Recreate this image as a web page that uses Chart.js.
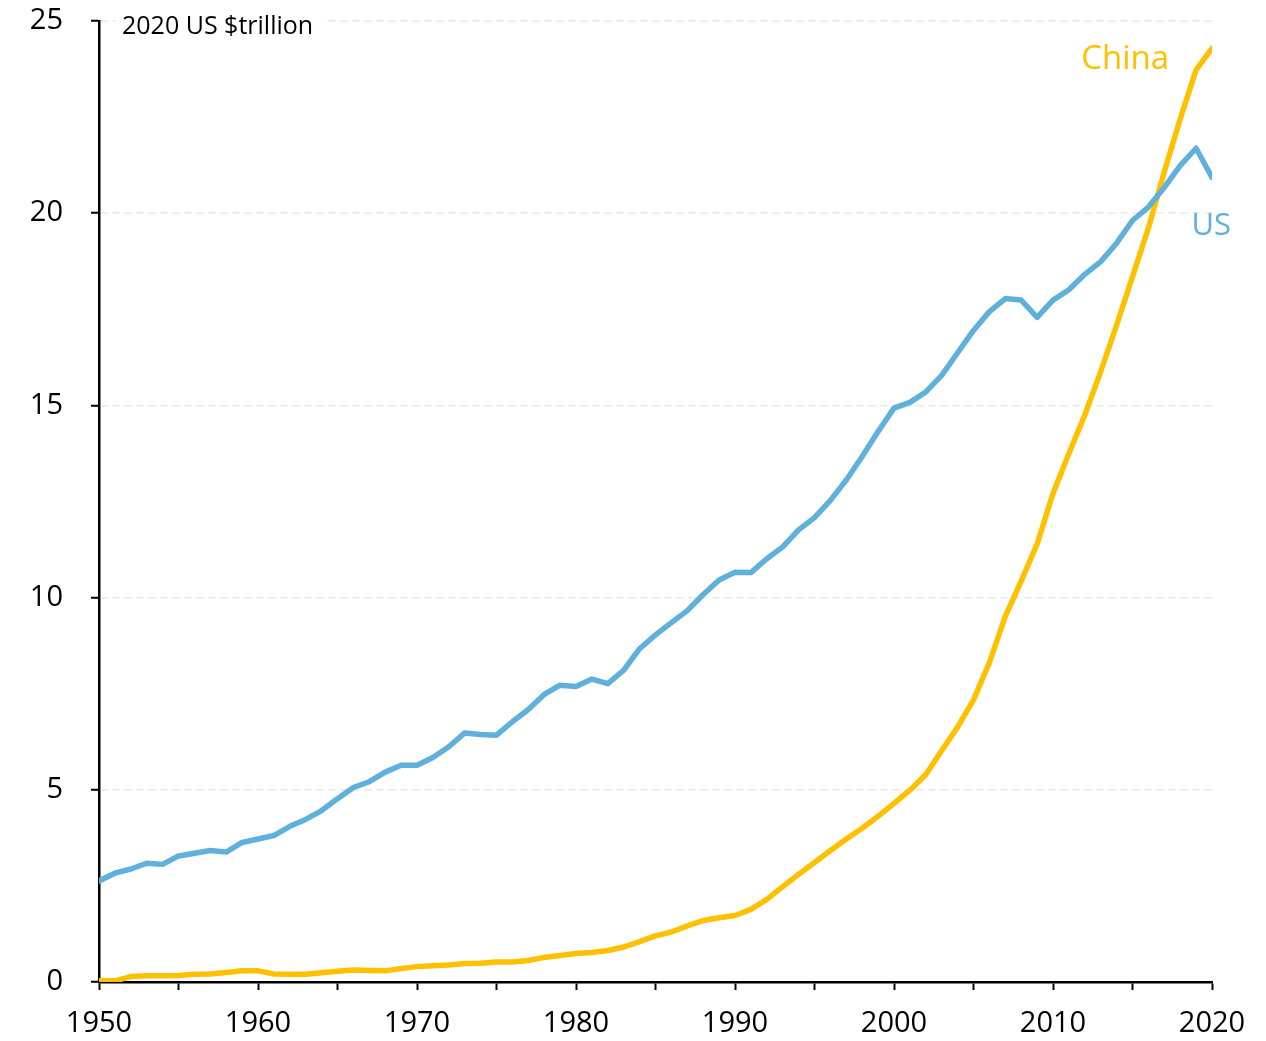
<!DOCTYPE html>
<html>
<head>
<meta charset="utf-8">
<script src="https://cdn.jsdelivr.net/npm/chart.js@4/dist/chart.umd.min.js"></script>
<style>
  html, body { margin: 0; padding: 0; background: #ffffff; }
  #wrap { width: 1266px; height: 1041px; position: relative; }
</style>
</head>
<body>
<div id="wrap"><canvas id="c" width="1266" height="1041"></canvas></div>
<script>
// GDP, 2020 US $trillion
const years = [1950,1951,1952,1953,1954,1955,1956,1957,1958,1959,
  1960,1961,1962,1963,1964,1965,1966,1967,1968,1969,
  1970,1971,1972,1973,1974,1975,1976,1977,1978,1979,
  1980,1981,1982,1983,1984,1985,1986,1987,1988,1989,
  1990,1991,1992,1993,1994,1995,1996,1997,1998,1999,
  2000,2001,2002,2003,2004,2005,2006,2007,2008,2009,
  2010,2011,2012,2013,2014,2015,2016,2017,2018,2019,2020];

const usGdp = [2.63,2.83,2.94,3.09,3.06,3.28,3.35,3.42,3.38,3.63,
  3.72,3.81,4.05,4.23,4.46,4.77,5.06,5.21,5.46,5.64,
  5.64,5.84,6.12,6.48,6.44,6.42,6.77,7.09,7.48,7.72,
  7.69,7.88,7.76,8.11,8.67,9.03,9.35,9.66,10.08,10.46,
  10.66,10.65,11.01,11.32,11.76,12.08,12.53,13.06,13.67,14.32,
  14.93,15.08,15.35,15.78,16.37,16.95,17.44,17.78,17.74,17.29,
  17.74,18.01,18.41,18.74,19.22,19.81,20.16,20.67,21.24,21.69,20.93];

const chinaGdp = [0.03,0.03,0.14,0.16,0.16,0.17,0.20,0.21,0.25,0.29,
  0.29,0.21,0.20,0.20,0.24,0.28,0.31,0.30,0.29,0.35,
  0.40,0.42,0.44,0.48,0.49,0.52,0.52,0.56,0.64,0.69,
  0.74,0.77,0.82,0.91,1.05,1.20,1.30,1.46,1.60,1.67,
  1.73,1.89,2.15,2.48,2.80,3.11,3.42,3.72,4.00,4.31,
  4.65,4.99,5.40,6.02,6.63,7.34,8.31,9.51,10.43,11.39,
  12.71,13.75,14.75,15.88,17.09,18.35,19.61,21.08,22.45,23.73,24.29];

const yTicks = [0, 5, 10, 15, 20, 25];

const US_BLUE = '#5fb0da';
const CHINA_GOLD = '#ffc000';
const FONT = '"Open Sans", "DejaVu Sans", sans-serif';

function pts(vals) { return years.map((y, i) => ({ x: y, y: vals[i] })); }

// Unit caption and series labels
const annotations = {
  id: 'annotations',
  afterDraw(chart) {
    const { ctx, scales: { x, y } } = chart;
    ctx.save();
    ctx.textBaseline = 'middle';
    // caption sits over the top grid line on a white patch
    ctx.font = '25px ' + FONT;
    const cap = '2020 US $trillion';
    const w = ctx.measureText(cap).width;
    const cx = x.left + 23, cy = y.getPixelForValue(25) + 6;
    ctx.fillStyle = '#ffffff';
    ctx.fillRect(cx - 6, cy - 16, w + 16, 30);
    ctx.fillStyle = '#000000';
    ctx.textAlign = 'left';
    ctx.fillText(cap, cx, cy);

    ctx.font = '33px ' + FONT;
    ctx.textAlign = 'right';
    ctx.fillStyle = CHINA_GOLD;
    ctx.fillText('China', x.getPixelForValue(2017.3), y.getPixelForValue(24.0));
    ctx.font = '31px ' + FONT;
    ctx.fillStyle = US_BLUE;
    ctx.fillText('US', x.getPixelForValue(2021.2), y.getPixelForValue(19.65));
    ctx.restore();
  }
};

new Chart(document.getElementById('c'), {
  type: 'line',
  data: {
    datasets: [
      { label: 'US', data: pts(usGdp), borderColor: US_BLUE, borderWidth: 5.5,
        pointRadius: 0, tension: 0, borderCapStyle: 'round', borderJoinStyle: 'round' },
      { label: 'China', data: pts(chinaGdp), borderColor: CHINA_GOLD, borderWidth: 5.5,
        pointRadius: 0, tension: 0, borderCapStyle: 'round', borderJoinStyle: 'round' }
    ]
  },
  options: {
    responsive: false,
    animation: false,
    layout: { padding: { left: 0, right: 54, top: 21, bottom: 0 } },
    plugins: { legend: { display: false }, tooltip: { enabled: false } },
    scales: {
      x: {
        type: 'linear', min: 1950, max: 2020,
        afterFit(s) { s.height = 59; },
        border: { display: true, color: '#000000', width: 2.5 },
        grid: { drawOnChartArea: false, drawTicks: true, tickLength: 8,
                tickColor: '#000000', tickWidth: 2 },
        ticks: {
          stepSize: 5, color: '#000000', padding: 16,
          font: { family: FONT, size: 29 },
          maxRotation: 0, autoSkip: false,
          callback: v => (v % 10 === 0 ? String(v) : '')
        }
      },
      y: {
        min: 0, max: 25,
        afterFit(s) { s.width = 99; s.paddingTop = 0; s.paddingBottom = 0; },
        afterBuildTicks(s) { s.ticks = yTicks.map(v => ({ value: v })); },
        border: { display: true, color: '#000000', width: 2.5, dash: [7, 5] },
        grid: {
          color: ctx => (ctx.tick && ctx.tick.value === 0 ? 'rgba(0,0,0,0)' : '#e8e8e8'),
          lineWidth: 1.5,
          drawTicks: true, tickLength: 8, tickColor: '#000000', tickWidth: 2,
          tickBorderDash: []
        },
        ticks: {
          color: '#000000', padding: 28,
          font: { family: FONT, size: 29 }
        }
      }
    }
  },
  plugins: [annotations]
});
</script>
</body>
</html>
